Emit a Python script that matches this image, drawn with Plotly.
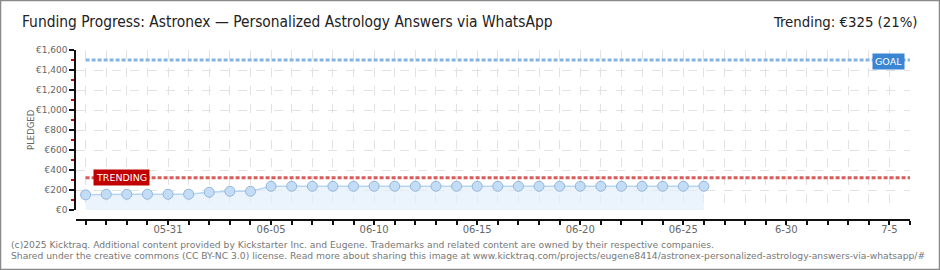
import plotly.graph_objects as go
import pandas as pd

# ---- data ----
dates = [
    "2025-05-27", "2025-05-28", "2025-05-29", "2025-05-30", "2025-05-31",
    "2025-06-01", "2025-06-02", "2025-06-03", "2025-06-04", "2025-06-05",
    "2025-06-06", "2025-06-07", "2025-06-08", "2025-06-09", "2025-06-10",
    "2025-06-11", "2025-06-12", "2025-06-13", "2025-06-14", "2025-06-15",
    "2025-06-16", "2025-06-17", "2025-06-18", "2025-06-19", "2025-06-20",
    "2025-06-21", "2025-06-22", "2025-06-23", "2025-06-24", "2025-06-25",
    "2025-06-26",
]
pledged = [
    154, 160, 160, 160, 160,
    160, 180, 190, 190, 240,
    240, 240, 240, 240, 240,
    240, 240, 240, 240, 240,
    240, 240, 240, 240, 240,
    240, 240, 240, 240, 240,
    240,
]
goal = 1500
trending = 325
axis_start = "2025-05-26 12:49"
axis_end = "2025-07-06"
tick_days = [d.strftime("%Y-%m-%d") for d in pd.date_range("2025-05-27", "2025-07-06", freq="D")]
tick_label_map = {
    "2025-05-31": "05-31", "2025-06-05": "06-05", "2025-06-10": "06-10",
    "2025-06-15": "06-15", "2025-06-20": "06-20", "2025-06-25": "06-25",
    "2025-06-30": "6-30", "2025-07-05": "7-5",
}
tick_text = [tick_label_map.get(d, "") for d in tick_days]
y_ticks = [0, 200, 400, 600, 800, 1000, 1200, 1400, 1600]
y_tick_text = ["\u20ac0", "\u20ac200", "\u20ac400", "\u20ac600", "\u20ac800",
               "\u20ac1,000", "\u20ac1,200", "\u20ac1,400", "\u20ac1,600"]

title_text = "Funding Progress: Astronex \u2014 Personalized Astrology Answers via WhatsApp"
trend_text = "Trending: \u20ac325 (21%)"
footer1 = "(c)2025 Kicktraq. Additional content provided by Kickstarter Inc. and Eugene. Trademarks and related content are owned by their respective companies."
footer2 = "Shared under the creative commons (CC BY-NC 3.0) license. Read more about sharing this image at www.kicktraq.com/projects/eugene8414/astronex-personalized-astrology-answers-via-whatsapp/#"

W, H = 940, 270
L, R, T, B = 76, 30, 50, 50
pw, ph = W - L - R, H - T - B

def px(xp):
    return (xp - L) / pw

def py(yp):
    return (H - B - yp) / ph

fig = go.Figure()
fig.add_trace(go.Scatter(
    x=dates, y=pledged, mode="lines+markers",
    line=dict(color="#b7d6f3", width=1.5),
    fill="tozeroy", fillcolor="rgba(226,238,252,0.7)",
    marker=dict(size=10, color="#c4ddf7", line=dict(color="#93b5da", width=1)),
    hoverinfo="skip", showlegend=False,
))
# invisible trace for tick axis
fig.add_trace(go.Scatter(x=[dates[0]], y=[0], xaxis="x2", mode="markers",
                         marker=dict(opacity=0), showlegend=False, hoverinfo="skip"))

grid = "#e2e2e2"
cond = "DejaVu Sans Condensed, Liberation Sans Narrow, DejaVu Sans, sans-serif"
fig.update_layout(
    width=W, height=H,
    margin=dict(l=L, r=R, t=T, b=B),
    paper_bgcolor="white", plot_bgcolor="white",
    xaxis=dict(type="date", range=[axis_start, axis_end],
               showgrid=True, gridcolor=grid, griddash="dash", gridwidth=1,
               tickvals=tick_days, ticktext=[""] * len(tick_days),
               showline=False, ticks="", zeroline=False, fixedrange=True),
    xaxis2=dict(type="date", range=[axis_start, axis_end], overlaying="x",
                anchor="free", position=0, side="bottom",
                showgrid=False, showline=True, linecolor="#111", linewidth=1.5,
                ticks="outside", ticklen=4, tickwidth=1.5, tickcolor="#111",
                tickvals=tick_days, ticktext=tick_text, ticklabelstandoff=-4,
                tickfont=dict(family="DejaVu Sans", size=10, color="#666")),
    yaxis=dict(range=[0, 1600], domain=[(220 - 210.3) / ph, 1],
               tickvals=y_ticks, ticktext=y_tick_text,
               showgrid=True, gridcolor=grid, griddash="dash", gridwidth=1,
               showline=True, linecolor="#111", linewidth=1.5,
               ticks="outside", ticklen=5, tickwidth=1.5, tickcolor="#111",
               minor=dict(dtick=100, ticks="outside", ticklen=3, tickcolor="#d00000", tickwidth=1.5, showgrid=False),
               zeroline=False,
               tickfont=dict(family="DejaVu Sans", size=9, color="#666")),
)

fig.add_shape(type="line", xref="x", yref="y", x0=dates[0], x1=axis_end, y0=goal, y1=goal,
              line=dict(color="#84b3e4", width=3, dash="4px,2px"))
fig.add_shape(type="line", xref="x", yref="y", x0=dates[0], x1=axis_end, y0=trending, y1=trending,
              line=dict(color="#d95c5c", width=3, dash="4px,2px"))

# frame
fig.add_shape(type="rect", xref="paper", yref="paper",
              x0=px(0.5), x1=px(939.5), y0=py(269.5), y1=py(0.5),
              line=dict(color="#8a8a8a", width=1.5), layer="above")

fig.add_annotation(xref="paper", yref="y", x=px(93), y=trending, xanchor="left", yanchor="middle",
                   text="TRENDING", showarrow=False, bgcolor="#c00000", borderpad=2,
                   font=dict(family="DejaVu Sans", size=9.5, color="white"))
fig.add_annotation(xref="paper", yref="y", x=px(905), y=goal - 15, xanchor="right", yanchor="middle",
                   text="GOAL", showarrow=False, bgcolor="#3a86d4", borderpad=2,
                   font=dict(family="DejaVu Sans", size=9.5, color="white"))

fig.add_annotation(xref="paper", yref="paper", x=px(24), y=py(130), text="PLEDGED", textangle=-90,
                   showarrow=False, font=dict(family="DejaVu Sans", size=8.5, color="#666"))

fig.add_annotation(xref="paper", yref="paper", x=px(20), y=py(22), xanchor="left", yanchor="middle",
                   text=title_text, showarrow=False,
                   font=dict(family=cond, size=15.4, color="#222"))
fig.add_annotation(xref="paper", yref="paper", x=px(920), y=py(22), xanchor="right", yanchor="middle",
                   text=trend_text, showarrow=False,
                   font=dict(family=cond, size=14.8, color="#222"))
fig.add_annotation(xref="paper", yref="paper", x=px(9), y=py(244), xanchor="left", yanchor="middle",
                   text=footer1, showarrow=False,
                   font=dict(family="DejaVu Sans", size=9.2, color="#777"))
fig.add_annotation(xref="paper", yref="paper", x=px(9), y=py(256), xanchor="left", yanchor="middle",
                   text=footer2, showarrow=False,
                   font=dict(family="DejaVu Sans", size=9.2, color="#777"))

fig.write_html("out.html")
